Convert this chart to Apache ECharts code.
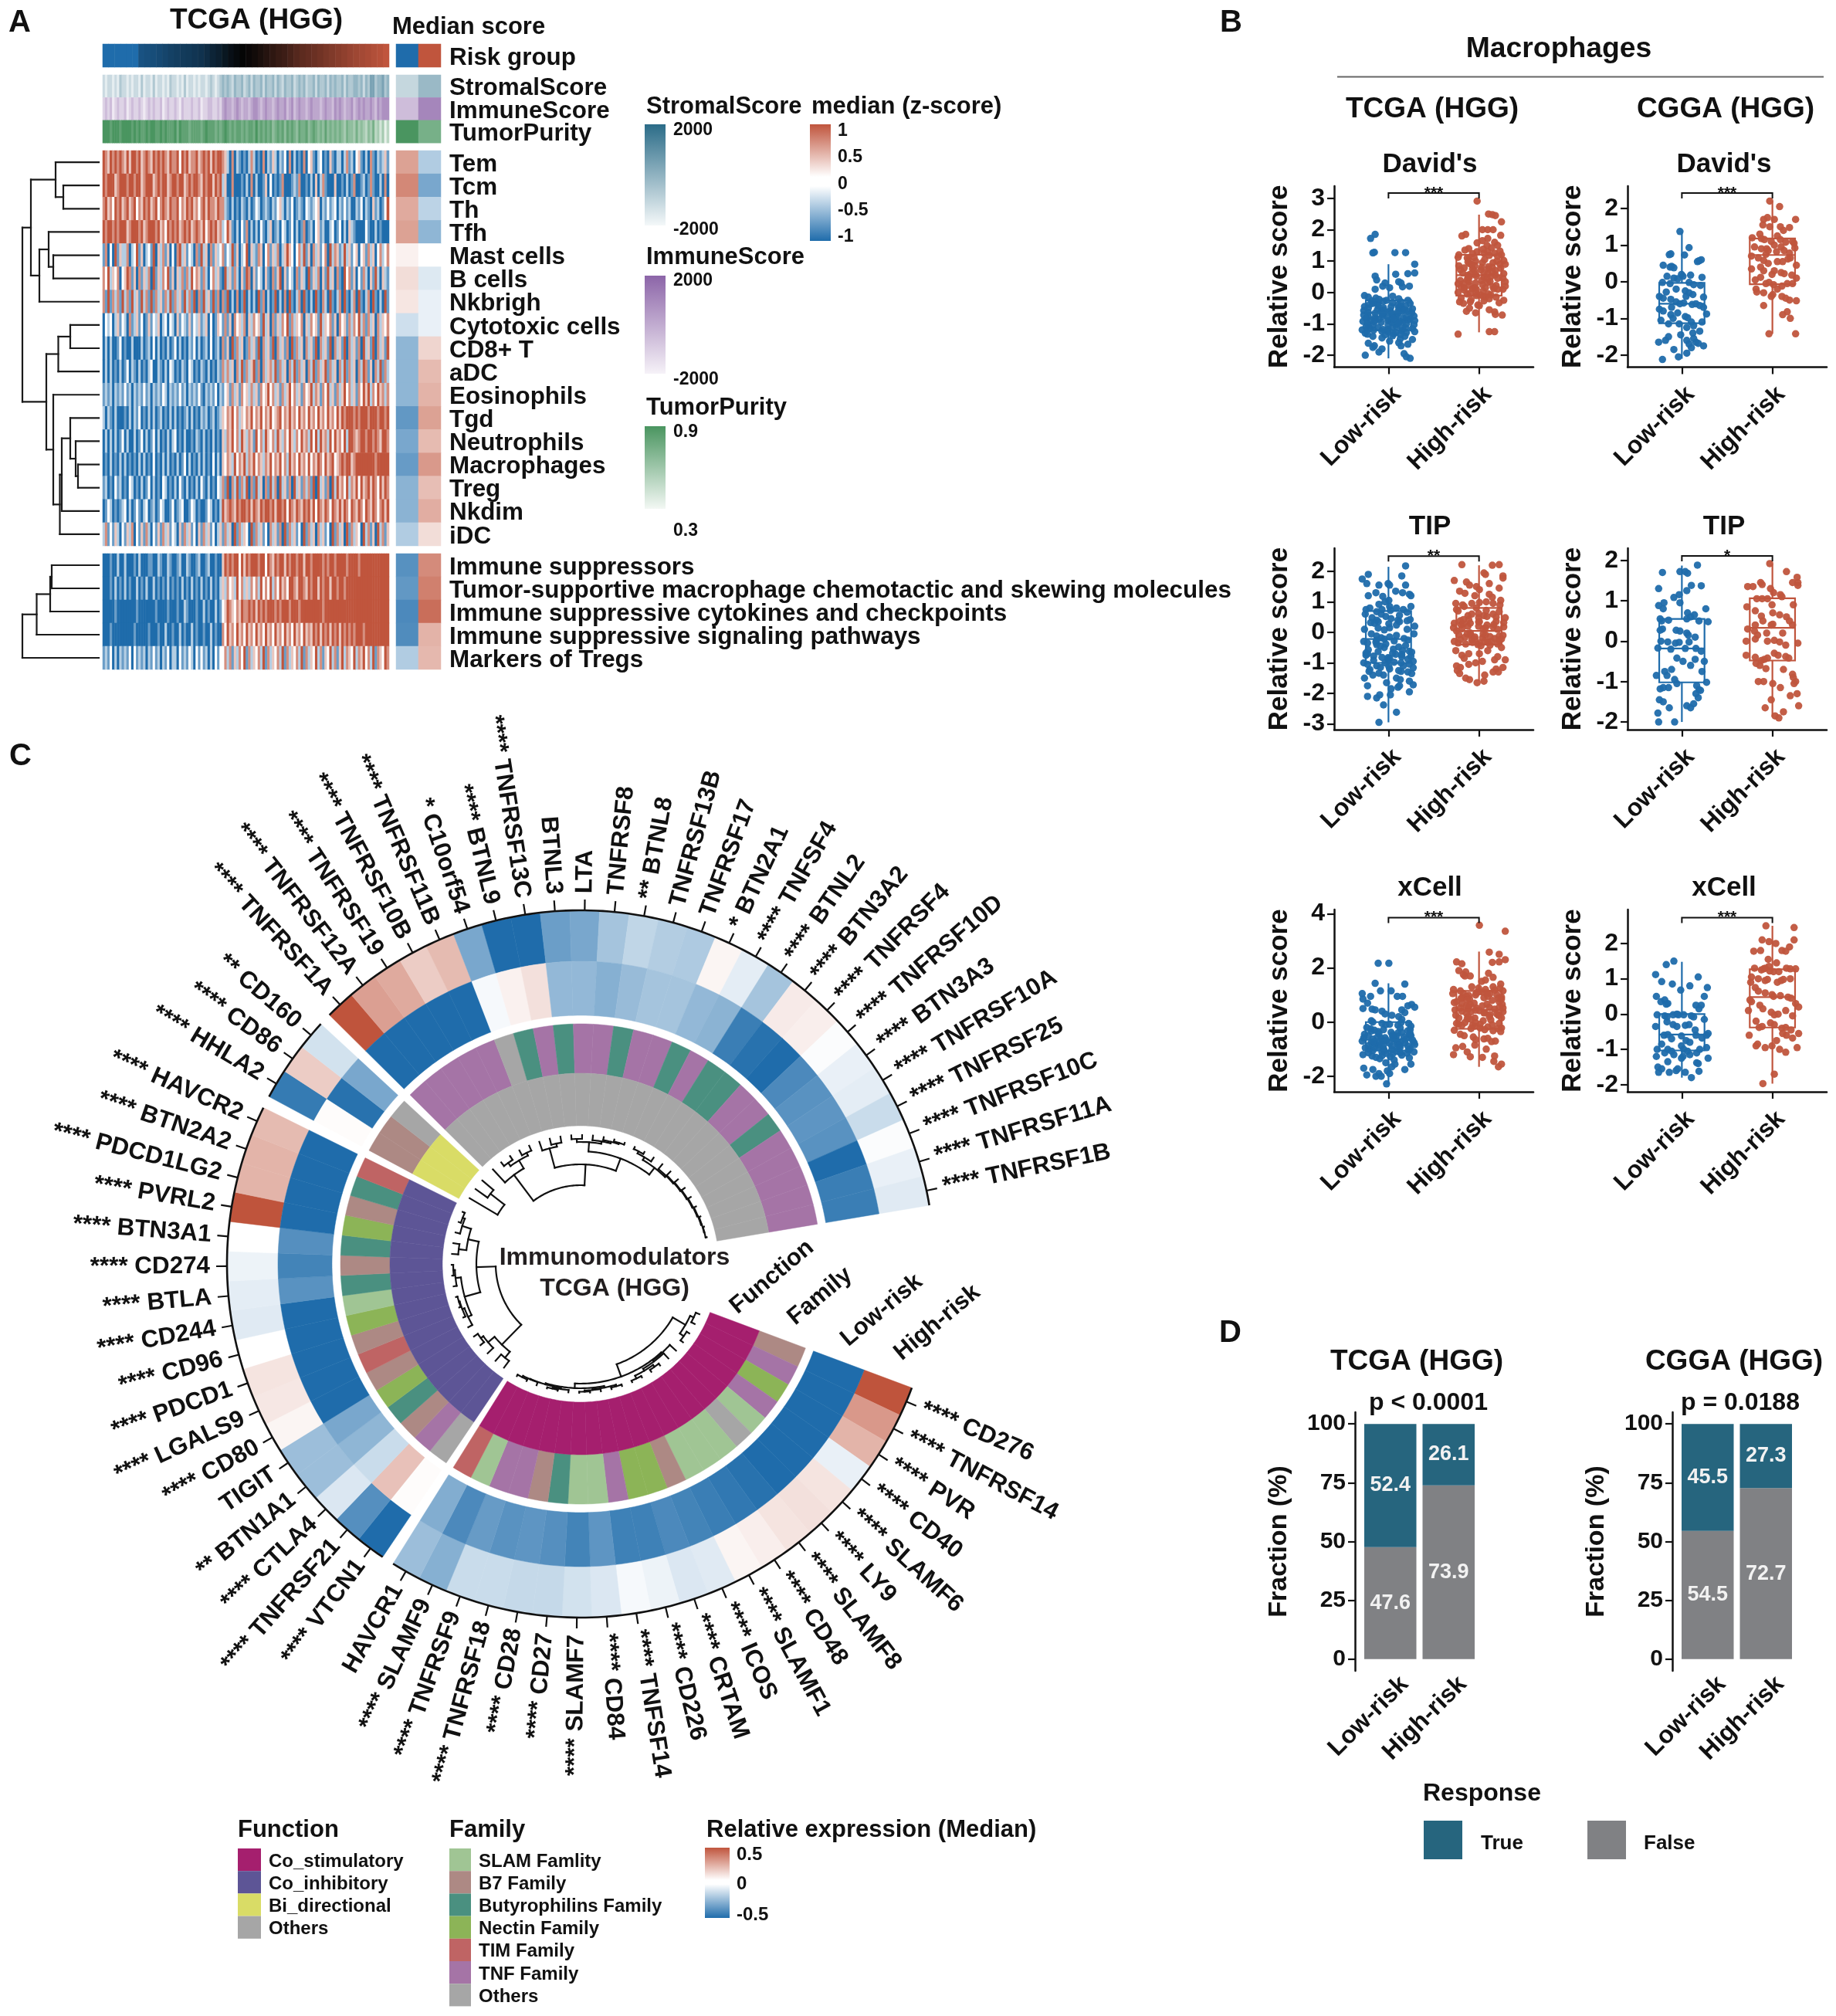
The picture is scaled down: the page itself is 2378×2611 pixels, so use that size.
<!DOCTYPE html>
<html><head><meta charset="utf-8">
<style>html,body{margin:0;background:#fff}#c{width:2378px;height:2611px}</style>
<script src="https://cdn.jsdelivr.net/npm/echarts@6/dist/echarts.min.js"></script>
</head><body><div id="c"></div>
<script>
/* ---------- PANEL A DATA (each digit: 0 strong blue .. 4 white .. 8 strong red) ---------- */
const riskScore=[-1,-1,-1,-1,-1,-1,-.75,-.72,-.7,-.66,-.62,-.58,-.55,-.52,-.5,-.47,-.44,-.38,-.3,-.25,-.17,-.1,-.05,0,.03,.07,.12,.17,.22,.27,.3,.36,.42,.47,.5,.54,.58,.62,.66,.7,.74,.78,.82,.85,.88,.92,.95,1];
const stromalRow="2122121322 1212213122 1312212132 2121312212 1221232123 4343243342 3424334243 3424324334 2343423342 4334243433 4243344342 4355344534";
const immuneRow="2323123223 1232232123 2322312322 3213222322 3122332232 4544345434 4345543454 4345445345 3454434544 4345443545 4344534545 4454354555";
const purityRow="8887888788 8878787787 8877878777 8687776777 7678777676 7876767767 6776867676 7567675767 6576675676 5657565656 5465546454 3546342413";
const cellNames=["Tem","Tcm","Th","Tfh","Mast cells","B cells","Nkbrigh","Cytotoxic cells","CD8+ T","aDC","Eosinophils","Tgd","Neutrophils","Macrophages","Treg","Nkdim","iDC"];
const cellRows=[
"7657676765 7577675676 5767676576 6747675667 5676757677 6531613212 0363120613 2530324160 3121614521 3402152033 1362314521 3062132352",
"7678756787 6876775687 7567678567 7687567677 6576785767 3501610121 3061310251 4120261012 3261120315 1362110510 2130261023 1262113061",
"6756476756 7567465767 5674676576 6746576756 4675766576 6321302132 0312431232 1324531324 0232143234 5132423413 2423013241 3205231247",
"7678676787 5678767567 7867564767 6756767567 6574676756 3475213042 6130314213 5023143024 1302612314 5230134024 1315320101 4201302010",
"2614172533 6134725134 2715362514 1673524316 2735162534 6243725134 7153265146 2536135754 1463725163 5246173652 3735245145 2635146346",
"6473546145 7625162536 1725364725 1536263746 5263146352 1735263152 7615243152 1625715243 1625317253 6152735162 1746251426 3152731532",
"6272636273 6273527362 7263526372 6352736271 6273527261 6271306127 1303172613 0271306172 0361720317 2063172036 1720361720 3617203172",
"1434135243 1623524125 2435134143 1524325243 5235141254 2625164536 1536452735 1625364726 3546153645 2735462516 4526364736 2635163546",
"1303102402 0131013023 1413021302 4130213241 3023140231 6251726351 2635271635 2716352617 2635163527 1635271635 2716352617 3527163527",
"1313021312 4132031213 4013213143 0213214302 1321302132 6363516372 6357261635 6372635163 7263516372 6357263516 3726351637 6251637263",
"2323132324 2313232423 1323243132 3242313232 4213232413 2452635264 5363526457 4635263574 6352645736 5264735263 5746352647 5736475636",
"3132031012 0313240213 1302312031 3120231302 1323123023 5465746354 6574657465 7456746575 6475647564 7564756475 7687767677 8678767868",
"1313031241 3103124131 2403120313 4120310213 2031213021 5365746375 3652746375 4637536475 3647563748 3756374856 4737865687 6786765786",
"0213120313 0212031312 0412031302 1302413021 3031204130 5465374657 3657465365 7465746375 6475647465 7647567456 7687567877 7878678787",
"2302142302 1430213024 1302143021 3042130213 0421302143 6271637263 7162735162 7361735261 7352636271 7352617385 6473657475 6757647576",
"1243021234 0312420341 2302430124 1234102431 2012430213 7567657687 6857657687 6758767476 5865768574 8657647657 5864765764 7657646757",
"3624253142 5361425263 1425263524 3152635241 5263524135 2635172635 4172635241 6352617263 5241726351 6352417263 5172635417 3625173625"];
const suppNames=["Immune suppressors","Tumor-supportive macrophage chemotactic and skewing molecules","Immune suppressive cytokines and checkpoints","Immune suppressive signaling pathways","Markers of Tregs"];
const suppRows=[
"0102013103 0102130102 2103201320 1230132012 3012301201 5767687475 7678767847 6576875768 7687578687 7867687678 8767878687 7878787888",
"1102130213 1201302130 1302120312 0213021302 1302130213 5364537463 5364637464 7364756487 6587657687 5768758768 7687878787 7877887888",
"1001020101 0000201010 1020101201 0201320102 0130201302 4576546576 6767576867 7867687867 7868787878 7867878787 8787878878 7878887888",
"1012010001 0102010012 0102013102 0130201302 0120130210 6475647564 7564756475 6475647564 7564756576 7576757685 7686868786 8787878778",
"2324131323 2414232313 2423132413 3142324314 2423131424 4636253647 2635463726 3546372635 4637263547 3625473625 7365473657 4637265476"];
const annotMedian={risk:[-1,1],stromal:[2.2,3.8],immune:[3,5.5],purity:[8,6]};
const cellMedian=[[.55,-.35],[.7,-.6],[.5,-.3],[.55,-.5],[.08,0],[.2,-.15],[.15,-.1],[-.22,-.1],[-.5,.25],[-.5,.4],[-.5,.45],[-.7,.55],[-.6,.4],[-.68,.6],[-.52,.38],[-.52,.48],[-.35,.2]];
const suppMedian=[[-.75,.68],[-.7,.75],[-.8,.85],[-.78,.45],[-.35,.42]];
const cellTree=[99,[88,[56,0,[46,0,0]],[77,[65,0,[59,0,0]],0]],[68,[52.5,[37,0,0],0],[59,0,[50.5,[48,[37,0,[30,0,[27,0,0]]],0],0]]]];
const suppTree=[99,[80.5,[63,[61,0,0],0],0],0];

/* ---------- PANEL B DATA: token = jitter digit + value in hundredths ---------- */
const groups=["Low-risk","High-risk"];
const ptsDavidTL="2185 1172 2128 2126 6127 8127 9090 9062 8060 6058 2052 2040 6034 4030 7030 7018 3020 5015 2010 8020 0-10 1-15 2-18 3-22 4-28 5-12 6-20 7-30 8-25 9-35 0-45 1-50 2-55 3-60 4-62 5-58 6-48 7-52 8-60 9-65 0-72 1-78 2-80 3-85 4-70 5-75 6-68 7-82 8-88 9-75 0-92 1-98 2-105 3-95 4-90 5-88 6-102 7-95 8-100 9-90 0-110 1-115 2-120 3-118 4-125 5-110 6-108 7-122 8-128 9-115 0-130 2-140 4-135 6-128 8-140 9-125 1-162 2-170 3-180 5-155 6-160 8-165 9-150 7-148 0-200 3-190 2-175 7-195 8-205 9-210 7-170 4-118 5-45 3-35 6-40 1-38 4-25 2-30 7-60 5-95 3-112 1-88 1-27 3-42 5-33 7-44 9-52 0-58 2-66 4-49 6-73 8-43 1-64 3-76 5-67 7-91 9-84 0-82 2-93 4-104 6-86 8-113 1-106 3-124 5-132 7-116 9-103 2-35 4-83 6-61 8-79 0-119 1-133 3-145 5-138 7-134 4-56 6-97 2-87 8-56 3-68 5-83";
const ptsDavidTH="4291 6250 7248 8245 9225 9182 1180 2185 5200 6200 7200 6172 5165 4158 7160 6150 8150 3140 2135 4130 5125 6130 7125 8115 9120 1120 2110 3105 4100 5095 6105 7095 8090 9090 1085 2078 3075 4070 5080 6075 7080 8070 9060 1062 2055 3058 4052 5048 6060 7050 8045 9045 1038 2040 3035 4030 5025 6032 7035 8022 9020 1018 2015 3012 4010 5005 6015 8010 9010 1000 2-05 3-02 4-10 5-12 6-05 7-08 8-15 9-25 1-30 2-35 3-30 4-40 5-42 6-15 7-62 8-70 9-72 2-60 4-65 6-55 3-50 1-133 6-125 7-125 5-08 4015 2028 3050 7018 6045 5062 4085 3092 8100 1112 3124 5138 7142 9102 2097 4112 6118 8132 1073 3088 5072 7066 9077 2048 4058 6082 8056 1028 3022 5038 7012 9034 2008 4-03 6-20 8-33 1-18 3-24 5-27";
const ptsDavidCL="4137 6093 2076 2074 5073 8060 7055 8057 1045 3042 2040 3038 4020 6018 2015 5015 3010 4008 8012 6-02 1-02 2-05 7-08 8-10 0-40 2-28 3-20 5-25 6-30 7-35 9-42 1-45 2-48 3-55 4-60 5-58 6-62 7-60 8-65 9-70 0-75 1-80 2-90 3-100 4-115 5-95 6-110 7-120 8-110 9-88 1-105 4-85 6-98 2-115 5-125 7-140 8-135 0-165 1-160 2-150 4-145 5-160 6-170 7-165 8-168 9-175 3-185 5-195 4-205 1-212 6-180 7-155 3-70 5-40";
const ptsDavidCH="4220 6205 5170 3170 4175 9170 3155 4150 6150 8148 7140 2130 1120 2118 5125 3115 4110 5100 6115 8110 9105 1095 2090 3090 4085 5082 6095 7085 8078 9092 1070 2065 3058 4050 5055 7062 8065 9045 1035 2040 3030 4020 5030 6025 7022 8018 9010 1005 2012 3-05 4-02 5-08 6-12 7-05 8-05 1-20 2-28 3-30 4-40 5-35 6-40 7-45 8-50 9-52 3-65 7-82 8-100 6-90 4-142 9-142 5-20 6055 3075 7108";
const ptsTipTL="8218 1190 0175 0160 7185 8155 3155 4160 5155 2130 1120 3118 6135 7130 8125 9120 4100 5105 0075 1080 2068 3075 5085 6080 7075 9085 0060 1048 2040 3035 4052 5045 6040 7035 8038 9020 0010 1-05 2-12 3-18 4-22 5-15 6-10 7-20 8-25 9-05 0-30 1-35 2-40 3-45 4-50 5-55 6-48 7-60 8-62 9-65 0-75 1-70 2-78 3-82 4-90 5-85 6-72 7-80 8-88 9-95 0-100 1-105 2-110 3-115 4-100 5-120 6-125 7-110 8-130 9-135 0-150 1-175 2-140 4-140 6-150 8-160 9-172 7-155 5-185 6-180 7-175 8-195 1-210 2-215 3-205 4-238 6-262 3-295 5-205 4-165 1-128 7-100 5015 2030 8010 3060 1032 3014 5028 7056 9042 2-32 4-38 6-28 8-43 1-57 3-63 5-68 7-73 9-78 2-92 4-83 6-98 8-104 1-122 3-134 5-112 7-128 9-116 0-68 2-26 4008 6024 8066 3092 5072";
const ptsTipTH="1222 7220 8222 5195 6190 9185 9178 0170 2165 3155 4150 5140 6160 8145 1135 2128 4120 6125 7115 0095 1090 2085 3095 4080 5098 6100 7095 8090 9105 0075 1070 2055 3060 4048 5055 6052 7060 8050 9048 0030 1025 2020 3030 4020 5012 6015 7018 8010 9018 0005 1-08 2-05 3-10 4-15 5-18 6-08 7-20 8-12 9-10 0-30 1-35 2-38 3-25 4-40 5-35 6-28 7-42 8-38 9-50 0-60 1-75 2-85 3-70 4-100 5-95 6-60 7-90 8-80 9-90 0-125 1-135 2-150 3-155 4-165 5-160 6-140 7-130 8-120 9-115 1-115 0-110 3-105 5-70 8-130 1038 3042 5035 7026 9032 2028 4034 6024 8036 1012 3-02 5-05 7-14 9-22 2-16 4-22 6-32 8-26 1-24 3-33 5-44 7-30 0015 2042 4062 6072 8068";
const ptsTipCL="7188 4172 5172 6168 1170 0130 5125 4115 6138 8137 1095 0088 1080 3108 4095 6070 9080 0055 1050 2052 5055 6060 7065 8050 9048 1030 0027 3027 4025 5020 6015 7010 1000 2-02 3-05 4-03 6-02 0-17 2-20 5-18 7-18 8-25 4-42 5-50 6-60 7-45 8-75 9-50 3-70 2-85 1-75 0-85 9-102 3-95 0-118 1-115 2-115 7-110 8-120 0-145 1-150 0-178 0-200 3-200 2-165 5-160 6-165 7-155 8-140 7-130 8-122 4-105";
const ptsTipCH="4192 7172 9158 8145 9138 1135 0135 2145 3140 4130 5120 6110 4105 3105 2105 6115 9145 8090 0085 1075 4090 5070 6065 7060 8050 2062 3050 1040 0030 4040 5042 8040 1025 2015 3020 6020 0000 1005 4000 5002 6-02 9-05 7-10 0-35 1-40 2-48 3-45 4-42 5-30 6-35 7-38 8-42 1-55 2-60 3-68 7-70 8-82 9-100 3-100 2-100 8-90 5-105 6-115 4-145 9-105 8-135 9-130 3-165 5-185 6-190 7-175 9-160";
const ptsXcellTL="3217 5217 8140 2143 3115 5115 0105 1095 0085 6095 7095 8060 9065 9055 1070 0050 1048 2045 3040 7045 8035 4030 5025 6020 7010 1005 2000 3-05 4-10 5-08 6-12 7-02 8-05 9-15 0-20 1-25 2-30 3-35 4-28 5-38 6-40 7-22 8-32 9-28 0-45 1-50 2-55 3-60 4-58 5-62 6-65 7-55 8-48 9-50 0-70 1-75 2-80 3-85 4-70 5-78 6-82 7-72 8-88 9-75 0-95 1-100 2-105 3-110 4-98 5-102 6-108 7-92 8-115 9-98 0-120 1-125 2-130 3-135 4-115 5-128 6-140 7-122 8-132 9-110 9-155 4-150 5-165 6-155 0-170 0-195 2-175 2-200 3-190 3-200 4-180 5-190 4-228 8-175 1-33 3-43 5-47 7-38 9-42 2-63 4-67 6-74 8-64 1-86 3-92 5-88 7-84 9-83 2-93 4-106 6-96 8-103 1-113 3-124 5-117 7-113 0-58 2-72 4-84 6-52 8-77 9-66 3-72 5-54";
const ptsXcellTH="5357 9335 6258 8250 9230 8222 7220 0222 1215 1190 2185 2175 2170 3170 6180 6155 5150 7165 0120 1115 2105 3130 4125 5110 6120 7130 8125 9115 9140 0105 1090 2095 3085 4100 5090 6095 7105 8100 9085 0075 1068 2060 3065 4070 5060 6055 7080 8075 9065 0045 1040 2048 3038 4052 5042 6035 7048 8030 9038 0025 1015 2020 3010 4015 5005 6020 7008 8025 9015 0-05 1-08 2-02 3-12 4-15 5-08 6-18 7-10 8-05 9-22 0-30 1-45 2-50 3-55 4-65 5-62 6-60 7-72 8-70 9-35 1-90 0-95 2-110 3-128 5-130 6-100 7-125 7-145 8-165 9-155 0-120 4-85 1052 3056 5034 7028 9052 2032 4044 6066 8054 1088 3098 5112 7118 9092 2012 4-02 6-28 8-24 1-12 3-24 5-22 7-32 0072 2082 4108 6108 8088";
const ptsXcellCL="3150 2140 0112 8105 1092 6080 4068 3085 9075 9050 0050 1040 1035 2030 7025 8025 2028 8015 4000 0-02 1-05 2-08 3-02 4-02 5-02 6-05 7-08 9-15 2-22 3-30 4-35 5-32 6-30 7-45 9-55 0-35 1-60 2-58 3-70 4-62 5-75 6-80 7-60 8-68 9-60 0-100 1-85 2-100 3-105 4-90 5-100 6-105 7-110 8-100 9-95 0-120 1-110 2-135 3-115 4-125 5-120 6-115 7-138 8-140 9-125 0-150 0-165 1-155 2-165 3-160 4-155 5-165 6-180 8-162";
const ptsXcellCH="3250 9245 9210 3210 4205 5200 2180 1178 6180 7178 8190 3130 4135 5120 4155 5145 1130 2125 3128 4122 6120 7130 8128 9128 1105 2100 3095 4098 5090 6095 7098 8100 0090 1075 2065 3060 4055 5050 6052 7048 8045 9030 0040 1035 2025 3015 4005 5-02 6000 7010 8-05 9020 0010 1-20 2-38 3-35 4-25 5-30 6-40 7-38 8-45 9-55 0-60 1-90 2-85 3-95 4-90 5-75 6-55 7-60 8-68 9-95 7-108 5-170 3-197 6-100";
/* box: min, q1, median, q3, max */
const boxes=[
 {t:"David's",sig:"***",br:3.17,ymin:-2.38,ymax:3.39,ticks:[-2,-1,0,1,2,3],L:ptsDavidTL,H:ptsDavidTH,bL:[-2.1,-1.2,-.65,-.25,.9],bH:[-1.27,-.1,.55,1.2,2.48]},
 {t:"David's",sig:"***",br:2.42,ymin:-2.33,ymax:2.61,ticks:[-2,-1,0,1,2],L:ptsDavidCL,H:ptsDavidCH,bL:[-2.1,-1.13,-.6,-.03,1.37],bH:[-1.42,-.07,.73,1.18,2.2]},
 {t:"TIP",sig:"**",br:2.5,ymin:-3.19,ymax:2.76,ticks:[-3,-2,-1,0,1,2],L:ptsTipTL,H:ptsTipTH,bL:[-2.95,-1,-.22,.7,2.15],bH:[-1.6,-.4,.05,.8,2.2]},
 {t:"TIP",sig:"*",br:2.11,ymin:-2.19,ymax:2.3,ticks:[-2,-1,0,1,2],L:ptsTipCL,H:ptsTipCH,bL:[-2,-1.02,-.18,.55,1.87],bH:[-1.87,-.48,.33,1.06,1.9]},
 {t:"xCell",sig:"***",br:3.85,ymin:-2.57,ymax:4.15,ticks:[-2,0,2,4],L:ptsXcellTL,H:ptsXcellTH,bL:[-2.28,-1.05,-.65,0,1.43],bH:[-1.65,-.25,.45,1.15,2.6]},
 {t:"xCell",sig:"***",br:2.73,ymin:-2.2,ymax:2.96,ticks:[-2,-1,0,1,2],L:ptsXcellCL,H:ptsXcellCH,bL:[-1.8,-1.03,-.58,0,1.48],bH:[-1.97,-.38,.48,1.27,2.5]}];

/* ---------- PANEL C DATA ---------- */
const sectorSizes=[21,17,3,26];
const geneNames=["CD276","TNFRSF14","PVR","CD40","SLAMF6","LY9","SLAMF8","CD48","SLAMF1","ICOS","CRTAM","CD226","TNFSF14","CD84","SLAMF7","CD27","CD28","TNFRSF18","TNFRSF9","SLAMF9","HAVCR1",
"VTCN1","TNFRSF21","CTLA4","BTN1A1","TIGIT","CD80","LGALS9","PDCD1","CD96","CD244","BTLA","CD274","BTN3A1","PVRL2","PDCD1LG2","BTN2A2","HAVCR2",
"HHLA2","CD86","CD160",
"TNFRSF1A","TNFRSF12A","TNFRSF19","TNFRSF10B","TNFRSF11B","C10orf54","BTNL9","TNFRSF13C","BTNL3","LTA","TNFRSF8","BTNL8","TNFRSF13B","TNFRSF17","BTN2A1","TNFSF4","BTNL2","BTN3A2","TNFRSF4","TNFRSF10D","BTN3A3","TNFRSF10A","TNFRSF25","TNFRSF10C","TNFRSF11A","TNFRSF1B"];
const geneStars=[4,4,4,4,4,4,4,4,4,4,4,4,4,4,4,4,4,4,4,4,0, 4,4,4,2,0,4,4,4,4,4,4,4,4,4,4,4,4, 4,4,2, 4,4,4,4,4,1,4,4,0,0,0,2,0,0,1,4,4,4,4,4,4,4,4,4,4,4];
const highMedian=[.5,.3,.22,-.05,.08,.09,.08,.05,.03,-.07,-.08,-.04,-.02,-.08,-.1,-.13,-.13,-.12,-.12,-.27,-.22,
-.5,-.38,-.08,-.22,-.22,.03,.07,.08,0,-.07,-.06,-.04,0,.5,.22,.22,.2,
-.45,.15,-.1,
.5,.28,.25,.15,.2,-.3,-.5,-.5,-.33,-.3,-.2,-.14,-.17,-.18,.03,-.06,-.2,.06,.05,-.01,-.05,-.06,-.12,-.01,-.05,-.07];
const lowMedian=[-.5,-.5,-.5,-.5,-.5,-.5,-.48,-.46,-.44,-.42,-.4,-.43,-.43,-.36,-.42,-.38,-.36,-.37,-.34,-.4,-.28,
.01,.18,-.12,-.25,-.3,-.5,-.5,-.5,-.5,-.5,-.37,-.42,-.38,-.5,-.5,-.5,-.5,
.01,-.48,-.3,
-.5,-.5,-.5,-.5,-.5,-.02,.04,.09,-.24,-.24,-.27,-.23,-.2,-.2,-.24,-.26,-.44,-.48,-.5,-.4,-.37,-.36,-.37,-.5,-.44,-.44];
const familyNames=["SLAM Famlity","B7 Family","Butyrophilins Family","Nectin Family","TIM Family","TNF Family","Others"];
const geneFamily=[1,5,3,5,0,6,0,0,0,1,3,3,5,0,0,2,1,5,5,0,4,
6,5,1,2,3,1,4,1,3,0,2,1,2,3,1,2,4,
1,1,6,
5,5,5,5,5,6,2,5,2,5,5,2,5,5,2,5,2,2,5,5,2,5,5,5,5,5];
const functionNames=["Co_stimulatory","Co_inhibitory","Bi_directional","Others"];
const sectorTrees=[
 [29,[10,[5,0,0],[4,0,0]],[12,[11,0,[9,0,[6,[3,0,0],[2,0,0]]]],[6,[4,[2,0,0],[3,0,[1.5,0,0]]],[4.5,[3,0,[1.5,0,0]],[4,0,[2,0,0]]]]]],
 [57,[21,[11,0,0],[10,0,[6,0,0]]],[32,[11,[6,0,[3,0,[2,0,0]]],[4,0,[2,0,0]]],[18,[8,0,0],[6,0,[3,0,0]]]]],
 [42,0,[19,0,0]],
 [65,[23,0,[11,[6,0,0],[7,0,0]]],[38,[12,0,[8,0,0]],[21,[9,[5,0,0],[6,0,[4,0,[2.5,0,0]]]],[10,[6,[3,0,0],0],[8,0,[7,0,[6,0,[5,0,[4,0,[3,0,[2,0,[1.5,0,0]]]]]]]]]]]]];

/* ---------- PANEL D DATA ---------- */
const respTrueTCGA=[52.4,26.1],respFalseTCGA=[47.6,73.9];
const respTrueCGGA=[45.5,27.3],respFalseCGGA=[54.5,72.7];
const fractionTicks=[0,25,50,75,100];

/* ---------- STYLE ---------- */
const FF='"Liberation Sans",Arial,sans-serif', INK='#111', BLUE='#1F6CAB', RED='#C0553D';
const divergeColors=[BLUE,'#ffffff',RED];
const famColors=['#A0C594','#AD8984','#4A9080','#8CB457','#BF6464','#A574A6','#A6A6A6'];
const funColors=['#A51F6E','#5D5596','#D9DC66','#A6A6A6'];
const grid=[],xAxis=[],yAxis=[],series=[],visualMap=[],gfx=[];
const digits=s=>s.replace(/\s/g,'').split('').map(Number);
const txt=(x,y,text,size,o={})=>gfx.push({type:'text',x,y:y+2,rotation:o.rot||0,silent:true,z:20,style:{text,font:`${o.weight||'bold'} ${size}px ${FF}`,fill:o.fill||INK,align:o.align||'left',verticalAlign:'middle'}});
const rect=(x,y,w,h,fill)=>gfx.push({type:'rect',silent:true,shape:{x,y,width:w,height:h},style:{fill}});
const vGrad=stops=>new echarts.graphic.LinearGradient(0,0,0,1,stops.map(([offset,color])=>({offset,color})));

/* heatmap block: rows = array of value arrays */
function heat(x,y,w,h,rows,vm,labels){
  const idx=grid.length, nx=rows[0].length;
  grid.push({left:x,top:y,width:w,height:h});
  xAxis.push({type:'category',gridIndex:idx,data:rows[0].map((_,i)=>i),show:false});
  yAxis.push(labels?{type:'category',gridIndex:idx,data:labels,inverse:true,position:'right',axisLine:{show:false},axisTick:{show:false},
      axisLabel:{margin:11,interval:0,formatter:v=>`{a|${v}}`,rich:{a:{padding:[6,0,0,0],fontFamily:FF,fontWeight:'bold',fontSize:31.4,color:INK}}}}
                   :{type:'category',gridIndex:idx,data:rows.map((_,i)=>i),inverse:true,show:false});
  const data=[];rows.forEach((r,j)=>r.forEach((v,i)=>{if(i<nx)data.push([i,j,v])}));
  visualMap.push({show:false,seriesIndex:series.length,min:vm.min,max:vm.max,dimension:2,inRange:{color:vm.colors}});
  series.push({type:'heatmap',xAxisIndex:idx,yAxisIndex:idx,data,silent:true,progressive:0,itemStyle:{borderWidth:0}});
}
const VM_Z={min:-1,max:1,colors:divergeColors};
const VM_Z8={min:1,max:7,colors:divergeColors};
const VM_RISK={min:-1,max:1,colors:[BLUE,'#050505',RED]};
const VM_STR={min:0,max:8,colors:['#ffffff','#2B6C88']};
const VM_IMM={min:0,max:7,colors:['#ffffff','#8C65A8']};
const VM_PUR={min:0,max:8,colors:['#ffffff','#4A9560']};

/* PANEL A */
const HX=133,HW=371,MX=513,MW=58;
heat(HX,57,HW,30,[riskScore],VM_RISK);
heat(MX,57,MW,30,[annotMedian.risk],VM_RISK,['Risk group']);
heat(HX,97,HW,29.4,[digits(stromalRow)],VM_STR);
heat(HX,126.4,HW,29.4,[digits(immuneRow)],VM_IMM);
heat(HX,155.8,HW,29.4,[digits(purityRow)],VM_PUR);
heat(MX,97,MW,29.4,[annotMedian.stromal],VM_STR,['StromalScore']);
heat(MX,126.4,MW,29.4,[annotMedian.immune],VM_IMM,['ImmuneScore']);
heat(MX,155.8,MW,29.4,[annotMedian.purity],VM_PUR,['TumorPurity']);
heat(HX,195,HW,512,cellRows.map(digits),VM_Z8);
heat(MX,195,MW,512,cellMedian,VM_Z,cellNames);
heat(HX,717,HW,150,suppRows.map(digits),VM_Z8);
heat(MX,717,MW,150,suppMedian,VM_Z,suppNames);

function treeSegs(tree,pos){
  const segs=[];let i=0;
  (function walk(n){
    if(n===0){return {p:pos(i++),h:0}}
    const a=walk(n[1]),b=walk(n[2]),h=n[0];
    segs.push([a.h,a.p,h,a.p],[b.h,b.p,h,b.p],[h,a.p,h,b.p]);
    return {p:(a.p+b.p)/2,h};
  })(tree);
  return segs;
}
function dendro(x,y,w,h,tree,n){
  const idx=grid.length;
  grid.push({left:x,top:y,width:w,height:h});
  xAxis.push({type:'value',gridIndex:idx,min:0,max:w,inverse:true,show:false});
  yAxis.push({type:'value',gridIndex:idx,min:0,max:n,inverse:true,show:false});
  series.push({type:'custom',xAxisIndex:idx,yAxisIndex:idx,silent:true,encode:{x:[0,2],y:[1,3]},data:treeSegs(tree,i=>i+.5),
    renderItem:(p,api)=>{const a=api.coord([api.value(0),api.value(1)]),b=api.coord([api.value(2),api.value(3)]);
      return {type:'line',shape:{x1:a[0],y1:a[1],x2:b[0],y2:b[1]},style:{stroke:'#1a1a1a',lineWidth:2.2,lineCap:'square'}}}});
}
dendro(20,195,108,512,cellTree,17);
dendro(20,717,108,150,suppTree,5);

txt(11,28,'A',40);txt(332,25,'TCGA (HGG)',37,{align:'center'});txt(508,33,'Median score',31);
txt(837,136,'StromalScore',31);txt(1051,136,'median (z-score)',31);
txt(837,331,'ImmuneScore',31);txt(837,526,'TumorPurity',31);
rect(835,161,27,131,vGrad([[0,'#2B6C88'],[1,'#F4F8F9']]));
txt(872,167,'2000',23);txt(872,296,'-2000',23);
rect(835,357,27,127,vGrad([[0,'#8C65A8'],[1,'#F6F2F8']]));
txt(872,362,'2000',23);txt(872,490,'-2000',23);
rect(835,552,27,107,vGrad([[0,'#4A9560'],[1,'#F3F8F4']]));
txt(872,558,'0.9',23);txt(872,686,'0.3',23);
rect(1049,161,27,151,vGrad([[0,RED],[.45,'#ffffff'],[.53,'#ffffff'],[1,BLUE]]));
[['1',168],['0.5',202],['0',237],['-0.5',271],['-1',305]].forEach(([t,y])=>txt(1085,y,t,23));

/* PANEL B */
const parsePts=(s,c)=>s.trim().split(/\s+/).map(t=>{const v=+t.slice(1);return [c+(+t[0]-4.5+(Math.abs(v)%7)/7-.43)/17,v/100]});
const colsB=[[1728,258],[2108,258]],rowsB=[[241,234.5],[710,235],[1178,236]];
const axisStyle={lineStyle:{color:INK,width:2.5}};
boxes.forEach((b,k)=>{
  const [x,w]=colsB[k%2],[y,h]=rowsB[(k/2)|0],idx=grid.length;
  grid.push({left:x,top:y,width:w,height:h});
  xAxis.push({type:'value',gridIndex:idx,min:.4,max:2.6,splitLine:{show:false},
    axisLine:{...axisStyle,onZero:false},axisTick:{customValues:[1,2],length:9,lineStyle:{color:INK,width:2.2}},
    axisLabel:{customValues:[1,2],formatter:v=>groups[v-1],rotate:45,margin:19,verticalAlign:'top',fontFamily:FF,fontWeight:'bold',fontSize:32,color:INK}});
  yAxis.push({type:'value',gridIndex:idx,min:b.ymin,max:b.ymax,splitLine:{show:false},name:'Relative score',nameLocation:'middle',nameGap:53,
    nameTextStyle:{fontFamily:FF,fontWeight:'bold',fontSize:35,color:INK},
    axisLine:{...axisStyle,onZero:false},axisTick:{customValues:b.ticks,length:9,lineStyle:{color:INK,width:2.2}},
    axisLabel:{customValues:b.ticks,margin:12,fontFamily:FF,fontWeight:'bold',fontSize:32,color:INK}});
  [[b.L,1,BLUE],[b.H,2,RED]].forEach(([s,c,col])=>series.push({type:'scatter',xAxisIndex:idx,yAxisIndex:idx,silent:true,symbolSize:9.5,itemStyle:{color:col,opacity:.95},data:parsePts(s,c)}));
  [[b.bL,1,BLUE],[b.bH,2,RED]].forEach(([q,c,col])=>series.push({type:'custom',xAxisIndex:idx,yAxisIndex:idx,silent:true,z:3,encode:{x:0,y:[1,2,3,4,5]},data:[[c,...q]],
    renderItem:(p,api)=>{const cx=api.value(0),P=(u,v)=>api.coord([u,v]),st={stroke:col,lineWidth:2.2,fill:null};
      const a=P(cx-.25,api.value(4)),d=P(cx+.25,api.value(2)),m0=P(cx-.25,api.value(3)),m1=P(cx+.25,api.value(3)),w0=P(cx,api.value(1)),w1=P(cx,api.value(2)),w2=P(cx,api.value(4)),w3=P(cx,api.value(5));
      const ln=(A,B)=>({type:'line',shape:{x1:A[0],y1:A[1],x2:B[0],y2:B[1]},style:st});
      return {type:'group',children:[{type:'rect',shape:{x:a[0],y:a[1],width:d[0]-a[0],height:d[1]-a[1]},style:st},ln(m0,m1),ln(w0,w1),ln(w2,w3)]}}}));
  series.push({type:'custom',xAxisIndex:idx,yAxisIndex:idx,silent:true,z:4,encode:{x:[0,1],y:2},data:[[1,2,b.br]],
    renderItem:(p,api)=>{const A=api.coord([api.value(0),api.value(2)]),B=api.coord([api.value(1),api.value(2)]);
      return {type:'group',children:[{type:'polyline',shape:{points:[[A[0],A[1]+7],A,B,[B[0],B[1]+7]]},style:{stroke:INK,lineWidth:2,fill:null}},
        {type:'text',x:(A[0]+B[0])/2,y:A[1],style:{text:b.sig,font:`bold 21px ${FF}`,fill:INK,align:'center',verticalAlign:'middle'}}]}}});
  txt(x+(k%2?125:124),y-30,b.t,35,{align:'center'});
});
txt(1580,28,'B',40);txt(2019,62,'Macrophages',37.3,{align:'center'});
gfx.push({type:'line',silent:true,shape:{x1:1732,y1:99.5,x2:2362,y2:99.5},style:{stroke:'#666',lineWidth:2}});
txt(1855,140,'TCGA (HGG)',37,{align:'center'});txt(2235,140,'CGGA (HGG)',37,{align:'center'});

/* PANEL C */
const STEP=4.835,GAP=2,START=339.5;
const geneAngle=[],sectorSpan=[];
(()=>{let a=START,g=0;sectorSizes.forEach((n,s)=>{const a0=a;for(let i=0;i<n;i++){geneAngle[g++]=a-STEP*(i+.5)}a-=STEP*n;sectorSpan.push([a0,a]);a-=GAP;});})();
const geneFunction=sectorSizes.flatMap((n,s)=>Array(n).fill(s));
const lerp3=v=>{const t=Math.max(-1,Math.min(1,v/.5));return t<0?echarts.color.lerp(-t,['#ffffff',BLUE]):echarts.color.lerp(t,['#ffffff','#BF543C'])};
const polarCenter=[752,1637];
const arcPts=(api,r,a0,a1)=>{const n=Math.max(2,Math.ceil(Math.abs(a1-a0)/1)),o=[];for(let i=0;i<=n;i++)o.push(api.coord([r,a0+(a1-a0)*i/n]).slice(0,2));return o};
function ring(r0,r1,vals,colorOf){
  series.push({type:'custom',coordinateSystem:'polar',silent:true,encode:{radius:0,angle:1},clip:false,data:vals.map((v,i)=>[(r0+r1)/2,geneAngle[i],v]),
    renderItem:(p,api)=>{const a=api.value(1),v=api.value(2),c=colorOf(v),pts=arcPts(api,r1,a-STEP/2,a+STEP/2).concat(arcPts(api,r0,a+STEP/2,a-STEP/2));
      return {type:'polygon',shape:{points:pts},style:{fill:c,stroke:c,lineWidth:.5}}}});
}
ring(392,457,highMedian,lerp3);
ring(322,392,lowMedian,lerp3);
ring(247,311,geneFamily,v=>famColors[v]);
ring(179,247,geneFunction,v=>funColors[v]);
/* outer axis: arcs, ticks and labels */
series.push({type:'custom',coordinateSystem:'polar',silent:true,encode:{radius:0,angle:1},clip:false,data:sectorSpan.map(s=>[458,s[0],s[1]]),
  renderItem:(p,api)=>({type:'polyline',shape:{points:arcPts(api,api.value(0),api.value(1),api.value(2))},style:{stroke:INK,lineWidth:2.6,fill:null}})});
series.push({type:'custom',coordinateSystem:'polar',silent:true,encode:{radius:0,angle:1},clip:false,data:geneNames.map((n,i)=>[458,geneAngle[i]]),
  renderItem:(p,api)=>{const i=p.dataIndex,a=api.value(1),A=api.coord([458,a]),B=api.coord([472,a]),T=api.coord([480,a]);
    const right=Math.cos(a*Math.PI/180)>0,rad=a*Math.PI/180,s='*'.repeat(geneStars[i]);
    return {type:'group',children:[{type:'line',shape:{x1:A[0],y1:A[1],x2:B[0],y2:B[1]},style:{stroke:INK,lineWidth:2.2}},
      {type:'text',x:T[0],y:T[1],rotation:right?rad:rad-Math.PI,style:{text:(s?s+' ':'')+geneNames[i],font:`bold 31.4px ${FF}`,fill:INK,align:right?'left':'right',verticalAlign:'middle'}}]}}});
/* circular dendrograms */
let leafBase=0;
const polarTree=[];
sectorTrees.forEach((t,s)=>{const b=leafBase;polarTree.push(...treeSegs(t,i=>geneAngle[b+i]));leafBase+=sectorSizes[s]});
series.push({type:'custom',coordinateSystem:'polar',silent:true,encode:{radius:0,angle:1},clip:false,data:polarTree.map(d=>[167-d[0],d[1],167-d[2],d[3]]),
  renderItem:(p,api)=>{const r0=api.value(0),a0=api.value(1),r1=api.value(2),a1=api.value(3);
    const pts=a0===a1?[api.coord([r0,a0]).slice(0,2),api.coord([r1,a1]).slice(0,2)]:arcPts(api,r0,a0,a1);
    return {type:'polyline',shape:{points:pts},style:{stroke:'#111',lineWidth:2.2,fill:null,lineCap:'square'}}}});
txt(796,1627,'Immunomodulators',32,{align:'center',fill:'#221e1f'});txt(796,1667,'TCGA (HGG)',32,{align:'center',fill:'#221e1f'});
[['Function',1000,1652],['Family',1062,1677],['Low-risk',1142,1695],['High-risk',1214,1711]].forEach(([t,x,y])=>txt(x,y,t,31,{align:'center',rot:40*Math.PI/180}));
txt(12,978,'C',40);
/* C legends */
txt(308,2368,'Function',31);txt(582,2368,'Family',31);txt(915,2368,'Relative expression (Median)',31);
functionNames.forEach((n,i)=>{rect(308,2394+i*29.2,30,29.2,funColors[i]);txt(348,2409+i*29.2,n,24)});
familyNames.forEach((n,i)=>{rect(582,2394+i*29.2,28,29.2,famColors[i]);txt(620,2409+i*29.2,n,24)});
rect(913,2393,32,91,vGrad([[0,RED],[.46,'#ffffff'],[.52,'#ffffff'],[1,BLUE]]));
txt(954,2400,'0.5',24);txt(954,2438,'0',24);txt(954,2478,'-0.5',24);

/* PANEL D */
function stackBars(x,axisX,vTrue,vFalse,title,p,titleX,pX,nameX){
  const idx=grid.length;
  grid.push({left:x,top:1829,width:151,height:335});
  xAxis.push({type:'category',gridIndex:idx,data:groups,axisLine:{show:false},axisTick:{show:false},axisLabel:{rotate:45,interval:0,margin:-6,verticalAlign:'top',padding:[10,0,0,0],fontFamily:FF,fontWeight:'bold',fontSize:32,color:INK}});
  yAxis.push({type:'value',gridIndex:idx,min:-5,max:105,offset:x-axisX,splitLine:{show:false},name:'Fraction (%)',nameLocation:'middle',nameGap:axisX-nameX+(x-axisX)-25,
    nameTextStyle:{fontFamily:FF,fontWeight:'bold',fontSize:34,color:INK},
    axisLine:{show:true,onZero:false,...axisStyle},axisTick:{show:true,customValues:fractionTicks,length:9,lineStyle:{color:INK,width:2.2}},
    axisLabel:{customValues:fractionTicks,margin:12,fontFamily:FF,fontWeight:'bold',fontSize:30,color:INK}});
  const lab={show:true,position:'inside',color:'#F2F2F2',fontFamily:FF,fontWeight:'bold',fontSize:27};
  series.push({type:'bar',xAxisIndex:idx,yAxisIndex:idx,stack:'r'+idx,barWidth:67.5,silent:true,data:vFalse,itemStyle:{color:'#808184'},label:lab});
  series.push({type:'bar',xAxisIndex:idx,yAxisIndex:idx,stack:'r'+idx,barWidth:67.5,silent:true,data:vTrue,itemStyle:{color:'#26657E'},label:lab});
  txt(titleX,1762,title,37,{align:'center'});txt(pX,1815,p,32,{align:'center'});
}
stackBars(1763,1755,respTrueTCGA,respFalseTCGA,'TCGA (HGG)','p < 0.0001',1835,1850,1657);
stackBars(2174,2166,respTrueCGGA,respFalseCGGA,'CGGA (HGG)','p = 0.0188',2246,2254,2068);
txt(1579,1725,'D',40);txt(1843,2321,'Response',32);
rect(1844,2358,50,50,'#26657E');rect(2056,2358,50,50,'#808184');
txt(1918,2386,'True',26);txt(2129,2386,'False',26);

const chart=echarts.init(document.getElementById('c'),null,{renderer:'canvas'});
chart.setOption({animation:false,backgroundColor:'#fff',tooltip:{show:false},
  polar:{center:polarCenter,radius:[0,458]},
  angleAxis:{type:'value',min:0,max:360,startAngle:0,clockwise:false,show:false},
  radiusAxis:{type:'value',min:0,max:458,show:false},
  grid,xAxis,yAxis,visualMap,series,graphic:{elements:gfx}});
</script></body></html>
